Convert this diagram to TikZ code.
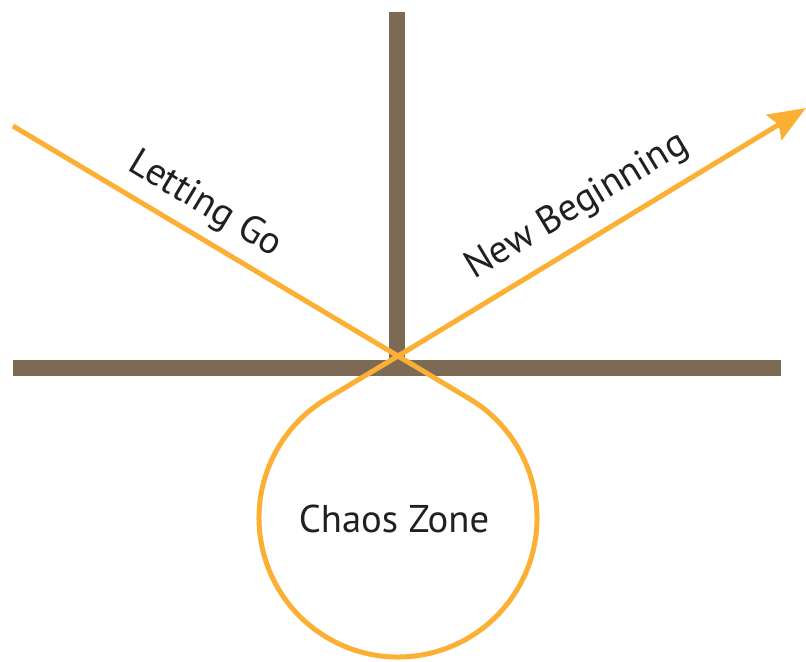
\documentclass[tikz,border=0pt]{standalone}
\usepackage{fontspec}
\setmainfont{PT Sans}
\definecolor{barbrown}{RGB}{125,106,85}
\definecolor{swingorange}{RGB}{251,176,52}
\definecolor{labelgray}{RGB}{35,31,32}
\usetikzlibrary{arrows.meta,calc}

\begin{document}
\begin{tikzpicture}[x=0.75pt,y=0.75pt,yscale=-1,xscale=1,
	bar/.style={fill=barbrown,draw=none},
	swing/.style={draw=swingorange,line width=3.75pt,line join=round},
	lbl/.style={text=labelgray,font=\fontsize{29}{34}\selectfont,inner sep=0pt}]
	\useasboundingbox (0,0) rectangle (806,661);
	
	%Shape: Axes
	\fill[bar] (389,12) rectangle (405,368);
	\fill[bar] (13,360) rectangle (781,376);
	
	%Points of the swing
	\coordinate (start) at (13,126);
	\coordinate (cross) at (398,356);
	\coordinate (tip) at (806,108);
	\coordinate (zonec) at (398,518);
	
	%Loop through the chaos zone
	\draw[swing] (start) -- (cross) -- ($(zonec)+(-59.1:139)$)
		arc[start angle=-59.1, end angle=239.1, radius=139] -- (cross);
	%Way out
	\draw[swing,-{Stealth[length=28pt,width=22pt,inset=4pt]}] (cross) -- (tip);
	
	% Text Node
	\node[lbl,anchor=base,rotate=-31] (letgo) at (200,213) {Letting Go};
	% Text Node
	\node[lbl,anchor=base,rotate=31] (newbeg) at (582,215) {New Beginning};
	% Text Node
	\node[lbl,anchor=base] (chaos) at (394,532) {Chaos Zone};
	
\end{tikzpicture}
\end{document}
